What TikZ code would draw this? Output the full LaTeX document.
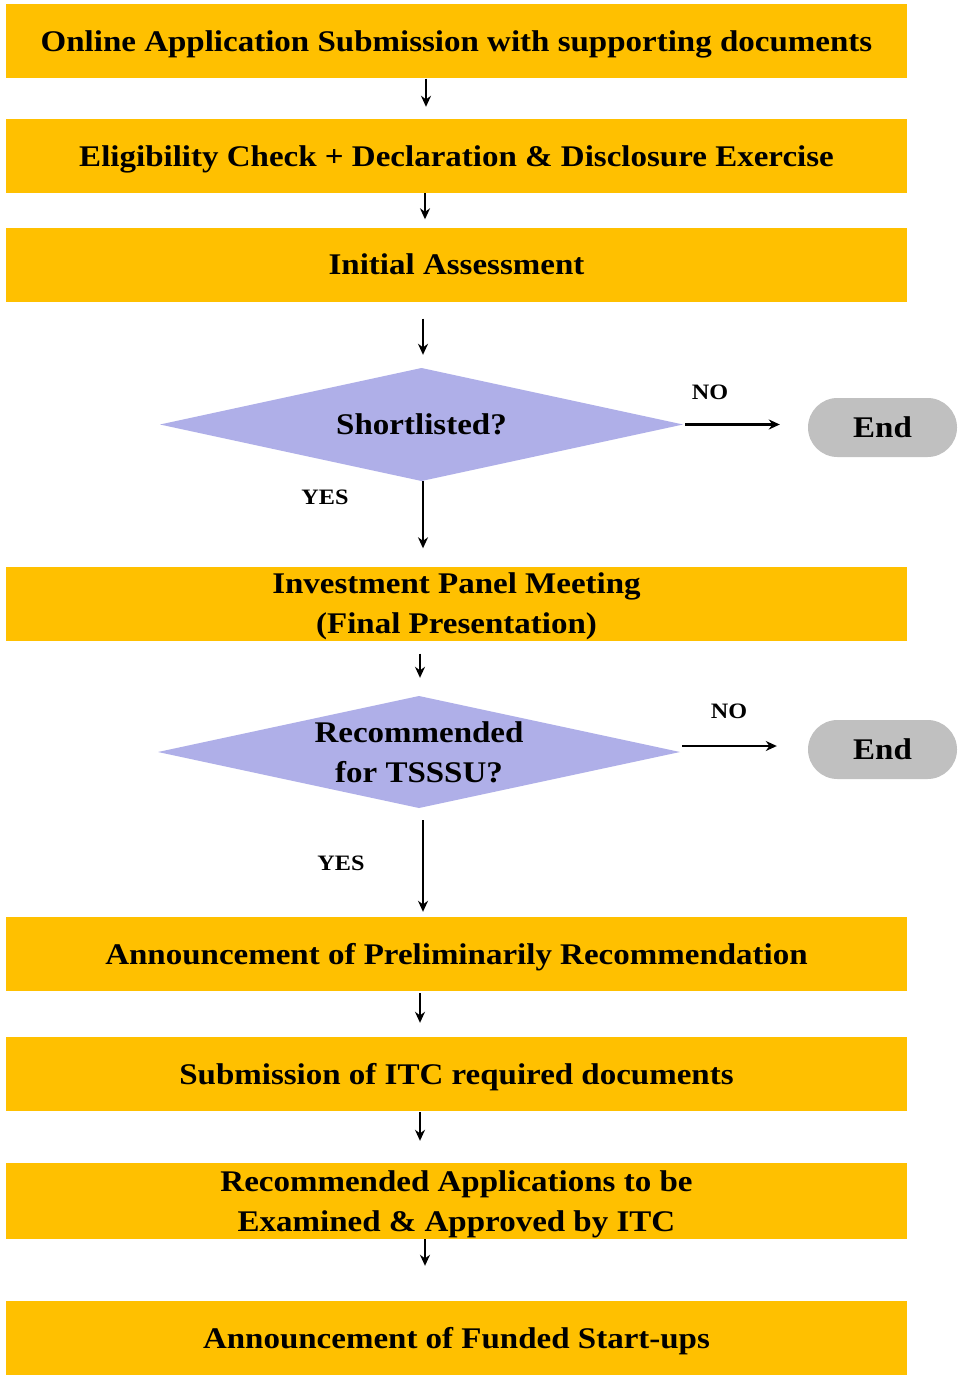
\documentclass[tikz,border=0pt]{standalone}
\usepackage{fontspec}
\setmainfont{Liberation Serif}[FakeStretch=1.1]
\usetikzlibrary{shapes.misc,arrows.meta}
\definecolor{boxor}{HTML}{FFC000}
\definecolor{dia}{HTML}{AFAFE8}
\definecolor{endg}{HTML}{C0C0C0}
\begin{document}
\begin{tikzpicture}[x=1pt,y=-1pt,
  box/.style={fill=boxor, minimum width=901pt, minimum height=74pt, inner sep=0pt, align=center,
    text depth=0pt, font=\fontsize{30}{40}\selectfont\bfseries},
  dec/.style={rectangle, inner sep=0pt, align=center, text depth=0pt,
    font=\fontsize{30}{40}\selectfont\bfseries,
    path picture={\fill[dia] (path picture bounding box.north) -- (path picture bounding box.east)
      -- (path picture bounding box.south) -- (path picture bounding box.west) -- cycle;}},
  endbox/.style={rounded rectangle, fill=endg, minimum width=149pt, minimum height=59pt, inner sep=0pt,
    text depth=0pt, font=\fontsize{30}{34}\selectfont\bfseries},
  lbl/.style={font=\fontsize{22}{26}\selectfont\bfseries, inner sep=0pt, text depth=0pt},
  arr/.style={line width=2.8pt, -{Stealth[length=11pt,width=10pt]}}]
\useasboundingbox (0,0) rectangle (959,1375);
\fill[white] (0,0) rectangle (959,1375);
\node[box] (b1) at (456.5,41.5) {Online Application Submission with supporting documents};
\node[box] (b2) at (456.5,156) {Eligibility Check + Declaration \& Disclosure Exercise};
\node[box] (b3) at (456.5,264.5) {Initial Assessment};
\node[dec, minimum width=523pt, minimum height=113pt] (d1) at (421.5,424.5) {Shortlisted?};
\node[endbox] (e1) at (882.5,427.5) {End};
\node[box] (b4) at (456.5,603.5) {Investment Panel Meeting\\(Final Presentation)};
\node[dec, minimum width=522pt, minimum height=112pt] (d2) at (419,752) {Recommended\\for TSSSU?};
\node[endbox] (e2) at (882.5,749.5) {End};
\node[box] (b5) at (456.5,954) {Announcement of Preliminarily Recommendation};
\node[box] (b6) at (456.5,1074) {Submission of ITC required documents};
\node[box, minimum height=76pt] (b7) at (456.5,1201) {Recommended Applications to be\\Examined \& Approved by ITC};
\node[box] (b8) at (456.5,1338) {Announcement of Funded Start-ups};
\node[lbl] (no1) at (710,392) {NO};
\node[lbl] (no2) at (729,711) {NO};
\node[lbl] (yes1) at (325,497) {YES};
\node[lbl] (yes2) at (341,863) {YES};
\draw[arr, shorten >=12pt] (b1.south -| 426,0) -- (b2.north -| 426,0);
\draw[arr, shorten >=8pt] (b2.south -| 425,0) -- (b3.north -| 425,0);
\draw[arr, shorten <=17pt, shorten >=13pt] (b3.south -| 423,0) -- (d1.north -| 423,0);
\draw[arr, shorten >=18pt] (d1.south -| 423,0) -- (b4.north -| 423,0);
\draw[arr, shorten <=13pt, shorten >=18pt] (b4.south -| 420,0) -- (d2.north -| 420,0);
\draw[arr, shorten <=12pt, shorten >=5pt] (d2.south -| 423,0) -- (b5.north -| 423,0);
\draw[arr, shorten <=2pt, shorten >=14pt] (b5.south -| 420,0) -- (b6.north -| 420,0);
\draw[arr, shorten <=1pt, shorten >=22pt] (b6.south -| 420,0) -- (b7.north -| 420,0);
\draw[arr, shorten >=35pt] (b7.south -| 425,0) -- (b8.north -| 425,0);
\draw[arr, shorten <=2pt, shorten >=28pt] (d1.east) -- (e1.west |- d1.east);
\draw[arr, shorten <=2pt, shorten >=31pt] (d2.east |- 0,746) -- (e2.west |- 0,746);
\end{tikzpicture}
\end{document}
